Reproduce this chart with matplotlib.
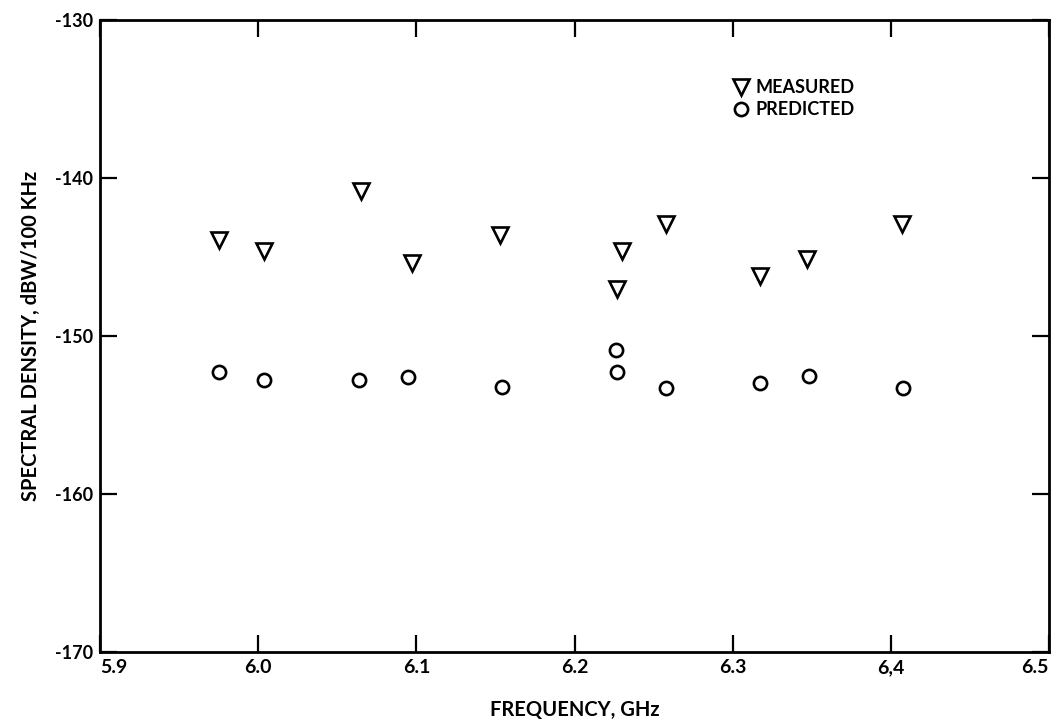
import matplotlib
matplotlib.use("Agg")
import matplotlib.pyplot as plt

# Data
measured_freq = [5.975, 6.004, 6.065, 6.097, 6.153, 6.227, 6.230, 6.258, 6.317, 6.347, 6.407]
measured_db   = [-143.9, -144.6, -140.8, -145.4, -143.6, -147.0, -144.6, -142.9, -146.2, -145.1, -142.9]

predicted_freq = [5.975, 6.004, 6.064, 6.095, 6.154, 6.226, 6.227, 6.258, 6.317, 6.348, 6.408]
predicted_db   = [-152.3, -152.8, -152.8, -152.6, -153.2, -150.9, -152.3, -153.3, -153.0, -152.5, -153.3]

xticks = [5.9, 6.0, 6.1, 6.2, 6.3, 6.4, 6.5]
xtick_labels = ["5.9", "6.0", "6.1", "6.2", "6.3", "6,4", "6.5"]
yticks = [-170, -160, -150, -140, -130]
ytick_labels = ["-170", "-160", "-150", "-140", "-130"]

plt.rcParams['font.family'] = ['Lato', 'DejaVu Sans']

fig = plt.figure(figsize=(10.58, 7.23), dpi=100)
ax = fig.add_axes([100/1058, 1 - 652/723, 949/1058, 632/723])

ax.plot(measured_freq, measured_db, linestyle='none', marker='v', markersize=11.5,
        markerfacecolor='white', markeredgecolor='black', markeredgewidth=1.9, label='MEASURED')
ax.plot(predicted_freq, predicted_db, linestyle='none', marker='o', markersize=9.5,
        markerfacecolor='white', markeredgecolor='black', markeredgewidth=1.9, label='PREDICTED')

ax.set_xlim(5.9, 6.5)
ax.set_ylim(-170, -130)
ax.set_xticks(xticks)
ax.set_xticklabels(xtick_labels, fontsize=14, fontweight='bold')
ax.set_yticks(yticks)
ax.set_yticklabels(ytick_labels, fontsize=13, fontweight='bold')
ax.tick_params(direction='in', length=12, width=1.6, top=True, right=True, pad=5)
xl = ax.get_xticklabels()
xl[0].set_horizontalalignment('left')
xl[-1].set_horizontalalignment('right')
for s in ax.spines.values():
    s.set_linewidth(2.0)

ax.set_xlabel("FREQUENCY, GHz", fontsize=14.5, fontweight='bold', labelpad=17)
ax.set_ylabel("SPECTRAL DENSITY, dBW/100 KHz", fontsize=14.5, fontweight='bold', labelpad=10)

leg = ax.legend(loc='upper left', bbox_to_anchor=(0.657, 0.921), frameon=False,
                handlelength=0.9, handletextpad=0.35, labelspacing=0.3, borderpad=0,
                prop={'size': 13, 'weight': 'bold'})

fig.savefig("out.png", dpi=100, facecolor='white')
